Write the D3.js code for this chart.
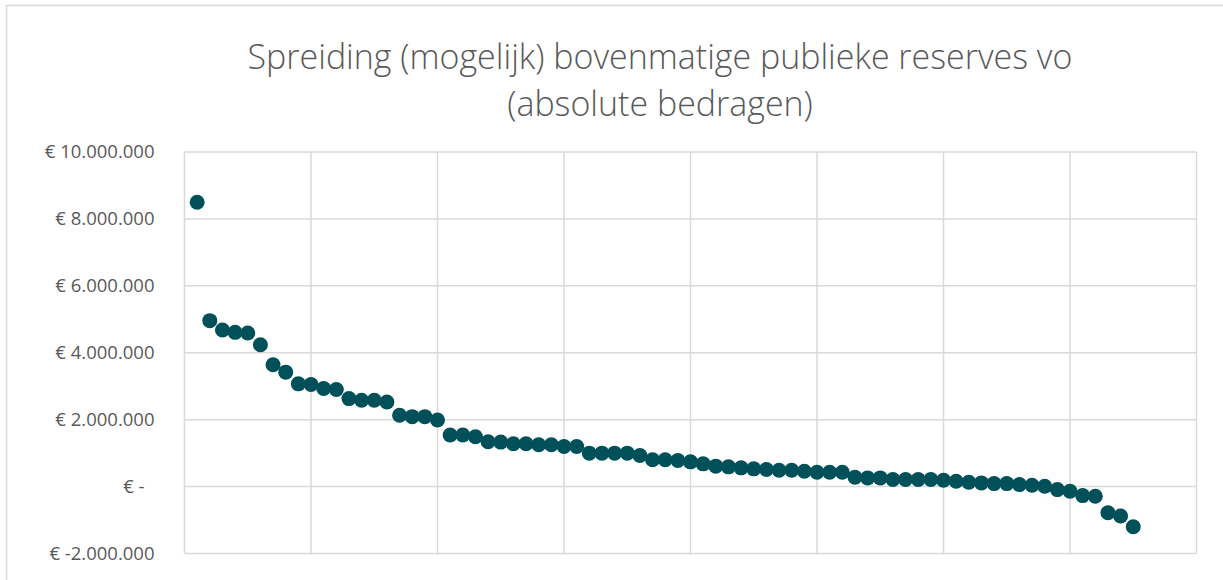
<!DOCTYPE html>
<html>
<head>
<meta charset="utf-8">
<script src="https://cdn.jsdelivr.net/npm/d3@7"></script>
<style>
  body { margin: 0; background: #fff; }
  svg { display: block; }
</style>
</head>
<body>
<div id="chart"></div>
<script>
// chart data
var titleLines = ["Spreiding (mogelijk) bovenmatige publieke reserves vo", "(absolute bedragen)"];

var reserves = [
  8500000, 4960000, 4680000, 4610000, 4590000, 4240000, 3640000, 3420000, 3070000, 3050000,
  2930000, 2900000, 2630000, 2580000, 2580000, 2530000, 2130000, 2090000, 2090000, 1990000,
  1540000, 1540000, 1490000, 1340000, 1330000, 1280000, 1280000, 1250000, 1250000, 1200000,
  1200000, 1000000, 1000000, 1000000, 1000000, 930000, 800000, 800000, 780000, 740000,
  680000, 610000, 590000, 560000, 530000, 510000, 490000, 490000, 460000, 430000,
  430000, 430000, 280000, 260000, 260000, 210000, 210000, 210000, 210000, 190000,
  160000, 130000, 110000, 90000, 90000, 60000, 40000, 10000, -90000, -140000,
  -270000, -290000, -780000, -880000, -1200000
];

var yTicks = [-2000000, 0, 2000000, 4000000, 6000000, 8000000, 10000000];
var xTicks = [0, 10, 20, 30, 40, 50, 60, 70, 80];

var svgWidth = 1223;
var svgHeight = 580;

// plot area
var margin = { top: 152, right: 26.5, bottom: 26.5, left: 184.5 };
var width = svgWidth - margin.left - margin.right;
var height = svgHeight - margin.top - margin.bottom;

var svg = d3.select("#chart")
  .append("svg")
  .attr("width", svgWidth)
  .attr("height", svgHeight);

// outer chart border
svg.append("rect")
  .attr("x", 6.5)
  .attr("y", 5.5)
  .attr("width", svgWidth + 20)
  .attr("height", svgHeight + 20)
  .attr("fill", "none")
  .attr("stroke", "#d9d9d9")
  .attr("stroke-width", 1.5);

// title, scaled to the width it has in the picture
var titleY = [57, 104];
var title = svg.append("g");
titleLines.forEach(function (t, i) {
  title.append("text")
    .attr("x", 660)
    .attr("y", titleY[i])
    .attr("dy", "0.35em")
    .attr("text-anchor", "middle")
    .style("font-family", "'Open Sans', 'Noto Sans', sans-serif")
    .style("font-weight", 300)
    .style("font-size", "30px")
    .style("fill", "#595959")
    .text(t);
});
var first = title.select("text").node();
var fs = 30 * 825 / first.getComputedTextLength();
title.selectAll("text").style("font-size", fs + "px");

var chart = svg.append("g")
  .attr("transform", `translate(${margin.left}, ${margin.top})`);

var xscale = d3.scaleLinear()
  .domain([0, 80])
  .range([0, width]);

var yscale = d3.scaleLinear()
  .domain([-2000000, 10000000])
  .range([height, 0]);

// gridlines
chart.append("g")
  .selectAll("line")
  .data(yTicks)
  .enter()
  .append("line")
  .attr("x1", 0)
  .attr("x2", width)
  .attr("y1", d => yscale(d))
  .attr("y2", d => yscale(d))
  .attr("stroke", "#d9d9d9")
  .attr("stroke-width", 1.5);

chart.append("g")
  .selectAll("line")
  .data(xTicks)
  .enter()
  .append("line")
  .attr("x1", d => xscale(d))
  .attr("x2", d => xscale(d))
  .attr("y1", 0)
  .attr("y2", height)
  .attr("stroke", "#d9d9d9")
  .attr("stroke-width", 1.5);

// y axis labels in euro accounting style
function euro(v) {
  if (v === 0) return "€ -";
  var s = d3.format(",")(v).replace(/,/g, ".").replace("\u2212", "-");
  return "€ " + s;
}

var leftAxis = d3.axisLeft(yscale)
  .tickValues(yTicks)
  .tickSize(0)
  .tickPadding(30)
  .tickFormat(euro);

var yAxis = chart.append("g").call(leftAxis);
yAxis.select(".domain").remove();
yAxis.selectAll("text")
  .style("font-family", "'Open Sans', 'Noto Sans', sans-serif")
  .style("font-size", "18.5px")
  .style("fill", "#595959")
  .attr("dx", d => d === 0 ? -10 : 0);

// points
chart.selectAll("circle")
  .data(reserves)
  .enter()
  .append("circle")
  .attr("cx", (d, i) => xscale(i + 1))
  .attr("cy", d => yscale(d))
  .attr("r", 7.5)
  .attr("fill", "#00505a");
</script>
</body>
</html>
